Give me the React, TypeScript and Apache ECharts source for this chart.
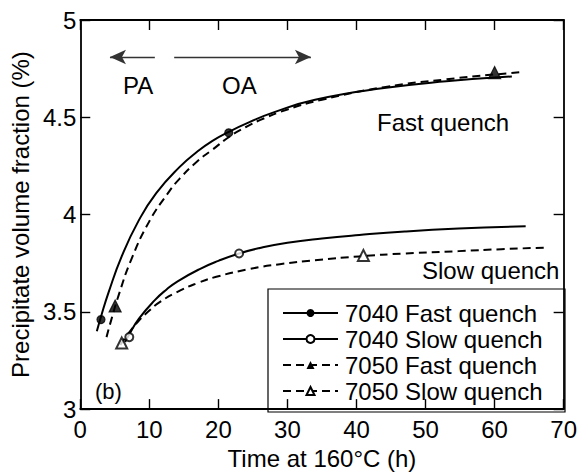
import React, { useEffect, useRef } from "react";
import * as echarts from "echarts";

const FONT = "'Liberation Sans', Arial, Helvetica, sans-serif";

const xTicks = { min: 0, max: 70, interval: 10 };
const yTicks = { min: 3, max: 5, interval: 0.5 };

const seriesNames = [
  "7040 Fast quench",
  "7040 Slow quench",
  "7050 Fast quench",
  "7050 Slow quench",
];

// model curves
const curve7040Fast: number[][] = [
  [2.4, 3.4], [3.0, 3.475], [4.1, 3.6], [6.0, 3.785], [8.4, 3.965], [11.0, 4.11],
  [14.4, 4.245], [17, 4.325], [19.2, 4.38], [21.5, 4.425], [24.5, 4.475], [28, 4.525],
  [34, 4.59], [44, 4.65], [53, 4.685], [62.5, 4.71],
];
const curve7040Slow: number[][] = [
  [6.5, 3.345], [7.1, 3.385], [8.5, 3.465], [10.8, 3.56], [12.5, 3.615], [14.1, 3.657],
  [17.3, 3.72], [20, 3.762], [23, 3.8], [26, 3.828], [30, 3.855], [35, 3.877],
  [40.4, 3.895], [47, 3.913], [54.8, 3.928], [64.5, 3.94],
];
const curve7050Fast: number[][] = [
  [3.8, 3.37], [4.5, 3.46], [5.6, 3.59], [7.4, 3.77], [10.0, 3.965], [12.7, 4.11],
  [14.4, 4.185], [17, 4.275], [19.2, 4.335], [21.6, 4.4], [24, 4.45], [26, 4.485],
  [30, 4.54], [35, 4.59], [44, 4.655], [53, 4.695], [60, 4.72], [64, 4.732],
];
const curve7050Slow: number[][] = [
  [5.8, 3.33], [7, 3.39], [8.5, 3.455], [9.8, 3.5], [11.5, 3.55], [14.5, 3.61],
  [17, 3.648], [19.7, 3.68], [24.5, 3.72], [28.9, 3.745], [34, 3.765], [40.4, 3.785],
  [47, 3.8], [54.8, 3.812], [61, 3.822], [67.3, 3.83],
];

// measured points
const pts7040Fast: number[][] = [[3.0, 3.46], [21.5, 4.42]];
const pts7040Slow: number[][] = [[7.1, 3.37], [23, 3.8]];
const pts7050Fast: number[][] = [[5.05, 3.53], [60, 4.73]];
const pts7050Slow: number[][] = [[6.0, 3.34], [41, 3.79]];

// PA / OA arrows (data coords)
const arrowY = 4.81;
const arrowPA = [10.8, 4.3];
const arrowOA = [13.6, 33.4];

export default function App() {
  const ref = useRef<HTMLDivElement>(null);
  useEffect(() => {
    if (!ref.current) return;
    const chart = echarts.init(ref.current, undefined, { renderer: "svg" });
    const axisCommon = {
      type: "value" as const,
      axisLine: { show: true, onZero: false, lineStyle: { color: "#000", width: 1.8 } },
      axisTick: { show: true, inside: true, length: 10, lineStyle: { color: "#000", width: 1.4 } },
      splitLine: { show: false },
    };
    const lineSeries = (name: string, data: number[][], dashed: boolean, symbol: string) => ({
      name,
      type: "line",
      data,
      smooth: 0.5,
      showSymbol: false,
      symbol,
      symbolSize: 8,
      itemStyle: { color: "#000", borderColor: "#000" },
      lineStyle: { color: "#000", width: 2, type: dashed ? [8, 5] : "solid" },
      silent: true,
      z: 2,
    });
    const ptSeries = (name: string, data: number[][], symbol: string, size: number) => ({
      name: name + " data",
      type: "scatter",
      data,
      symbol,
      symbolSize: size,
      itemStyle: { color: "#000", borderColor: "#000", borderWidth: 1.2 },
      silent: true,
      z: 3,
    });
    chart.setOption({
      animation: false,
      backgroundColor: "#fff",
      textStyle: { fontFamily: FONT },
      grid: { left: 80, top: 20, right: 15, bottom: 63, containLabel: false },
      xAxis: [
        {
          ...axisCommon,
          ...xTicks,
          position: "bottom",
          name: "Time at 160°C (h)",
          nameLocation: "middle",
          nameGap: 35,
          nameTextStyle: { fontSize: 24, color: "#000", fontFamily: FONT },
          axisLabel: { fontSize: 24, color: "#000", margin: 8, fontFamily: FONT },
        },
        {
          ...axisCommon,
          ...xTicks,
          position: "top",
          axisLabel: { show: false },
        },
      ],
      yAxis: [
        {
          ...axisCommon,
          ...yTicks,
          position: "left",
          name: "Precipitate volume fraction (%)",
          nameLocation: "middle",
          nameGap: 43,
          nameTextStyle: { fontSize: 24, color: "#000", fontFamily: FONT },
          axisLabel: { fontSize: 24, color: "#000", margin: 4, fontFamily: FONT },
        },
        {
          ...axisCommon,
          ...yTicks,
          position: "right",
          axisLabel: { show: false },
        },
      ],
      legend: {
        data: seriesNames,
        orient: "vertical",
        left: 282,
        top: 301,
        padding: 0,
        itemWidth: 55,
        itemHeight: 10,
        itemGap: 2,
        selectedMode: false,
        textStyle: { fontSize: 24, color: "#000", fontFamily: FONT, padding: [0, 0, 0, 2] },
      },
      series: [
        {
          ...lineSeries(seriesNames[0], curve7040Fast, false, "circle"),
          markLine: {
            silent: true,
            symbol: ["none", "arrow"],
            symbolSize: [11, 16],
            label: { show: false },
            lineStyle: { color: "#333", width: 1.4, type: "solid" },
            data: [
              [{ coord: [arrowPA[0], arrowY] }, { coord: [arrowPA[1], arrowY] }],
              [{ coord: [arrowOA[0], arrowY] }, { coord: [arrowOA[1], arrowY] }],
            ],
          },
        },
        lineSeries(seriesNames[1], curve7040Slow, false, "emptyCircle"),
        lineSeries(seriesNames[2], curve7050Fast, true, "triangle"),
        lineSeries(seriesNames[3], curve7050Slow, true, "emptyTriangle"),
        ptSeries(seriesNames[0], pts7040Fast, "circle", 8),
        ptSeries(seriesNames[1], pts7040Slow, "emptyCircle", 8),
        ptSeries(seriesNames[2], pts7050Fast, "triangle", 12),
        ptSeries(seriesNames[3], pts7050Slow, "emptyTriangle", 11),
      ],
      graphic: [
        {
          type: "rect",
          shape: { x: 268, y: 289, width: 297, height: 123 },
          style: { fill: "none", stroke: "#000", lineWidth: 1.2 },
          silent: true,
        },
        { type: "text", style: { text: "PA", x: 123, y: 85, fontSize: 24, fontFamily: FONT, fill: "#000", verticalAlign: "middle" } },
        { type: "text", style: { text: "OA", x: 222, y: 85, fontSize: 24, fontFamily: FONT, fill: "#000", verticalAlign: "middle" } },
        { type: "text", style: { text: "Fast quench", x: 377, y: 122, fontSize: 24, fontFamily: FONT, fill: "#000", verticalAlign: "middle" } },
        { type: "text", style: { text: "Slow quench", x: 422, y: 270, fontSize: 24, fontFamily: FONT, fill: "#000", verticalAlign: "middle" } },
        { type: "text", style: { text: "(b)", x: 95, y: 391, fontSize: 22, fontFamily: FONT, fill: "#000", verticalAlign: "middle" } },
      ],
    });
    return () => chart.dispose();
  }, []);
  return (
    <div
      ref={ref}
      style={{ position: "absolute", left: 0, top: 0, width: 580, height: 475, background: "#fff" }}
    />
  );
}
